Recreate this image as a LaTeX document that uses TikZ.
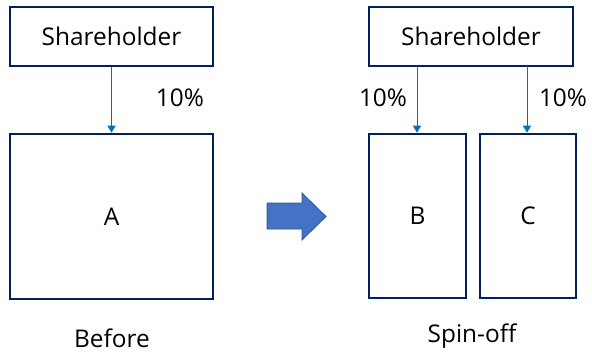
\documentclass[tikz,border=0pt]{standalone}
\usepackage{fontspec}
\setmainfont{Open Sans}
\usetikzlibrary{arrows.meta}
\definecolor{navy}{RGB}{0,32,96}
\definecolor{linkblue}{RGB}{0,112,192}
\definecolor{arrowfill}{RGB}{68,114,196}
\definecolor{arrowedge}{RGB}{47,82,143}
\begin{document}
\begin{tikzpicture}[x=1bp,y=-1bp,
  box/.style={draw=navy,line width=2.6bp,fill=white,inner sep=0pt},
  link/.style={draw=linkblue,line width=0.9bp,-{Triangle[length=7bp,width=8bp]}},
  lbl/.style={font=\fontsize{24.5}{28}\selectfont,text=black,inner sep=0pt}]
\useasboundingbox (0,0) rectangle (592,353);
% left
\node[box,minimum width=203bp,minimum height=59bp,lbl] (sh1) at (111.5,36.5) {Shareholder};
\node[box,minimum width=203bp,minimum height=165bp,lbl] (a) at (111.5,216.5) {A};
\draw[link] (sh1.south) -- (a.north);
\node[lbl] (p1) at (180,98) {10\%};
\node[lbl] (before) at (112,338) {Before};
% big arrow
\draw[draw=arrowedge,fill=arrowfill,line width=0.8bp]
  (267,203) -- (302,203) -- (302,193) -- (326,216.5) -- (302,240) -- (302,229) -- (267,229) -- cycle;
% right
\node[box,minimum width=204bp,minimum height=59bp,lbl] (sh2) at (471,36.5) {Shareholder};
\node[box,minimum width=97bp,minimum height=164bp,lbl] (b) at (417.5,216) {B};
\node[box,minimum width=96bp,minimum height=164bp,lbl] (c) at (528,216) {C};
\coordinate (s1) at (417,66);
\coordinate (s2) at (527,66);
\draw[link] (s1) -- (s1 |- b.north);
\draw[link] (s2) -- (s2 |- c.north);
\node[lbl] (p2) at (383,98) {10\%};
\node[lbl] (p3) at (563,98) {10\%};
\node[lbl] (spin) at (472,336) {Spin-off};
\end{tikzpicture}
\end{document}
